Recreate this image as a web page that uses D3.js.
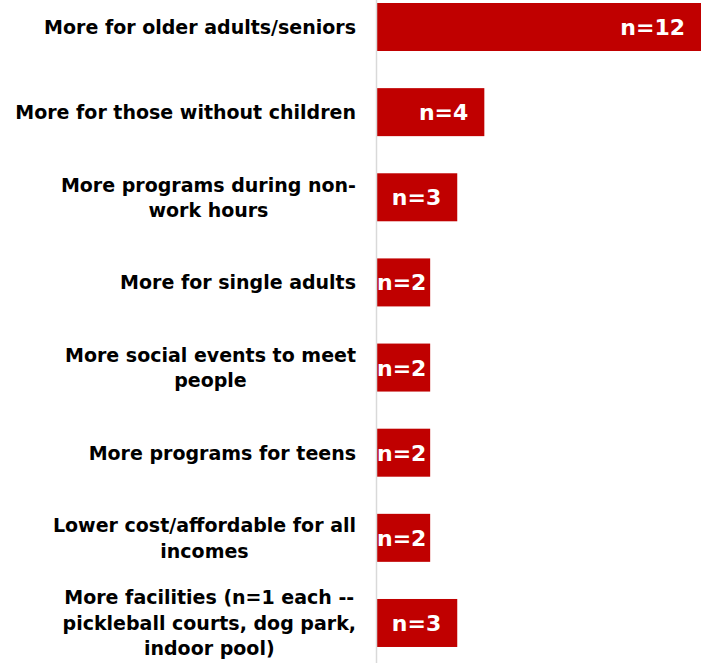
<!DOCTYPE html>
<html>
<head>
<meta charset="utf-8">
<script src="https://cdn.jsdelivr.net/npm/d3@7/dist/d3.min.js"></script>
<style>
  html, body { margin: 0; padding: 0; background: #fff; }
  svg { display: block; }
</style>
</head>
<body>
<svg id="chart" width="701" height="663"></svg>
<script>
const categories = [
  ["More for older adults/seniors"],
  ["More for those without children"],
  ["More programs during non-", "work hours"],
  ["More for single adults"],
  ["More social events to meet", "people"],
  ["More programs for teens"],
  ["Lower cost/affordable for all", "incomes"],
  ["More facilities (n=1 each --", "pickleball courts, dog park,", "indoor pool)"]
];
const values = [12, 4, 3, 2, 2, 2, 2, 3];
const valueLabels = ["n=12", "n=4", "n=3", "n=2", "n=2", "n=2", "n=2", "n=3"];

const FONT = "'DejaVu Sans', sans-serif";
const svg = d3.select("#chart");
const x0 = 376;
const x = d3.scaleLinear().domain([0, 12]).range([x0, 701]);
const idx = d3.range(values.length);
const step = 85.14;
const y = d3.scaleBand().domain(idx).range([27 - step / 2, 27 - step / 2 + step * 8])
  .paddingInner(0.4362).paddingOuter(0.2181);

// bars
svg.selectAll("rect.bar").data(idx).join("rect")
  .attr("class", "bar")
  .attr("x", x(0))
  .attr("y", i => y(i))
  .attr("width", i => x(values[i]) - x(0))
  .attr("height", y.bandwidth())
  .attr("fill", "#c00000");

// axis line
svg.append("line").attr("x1", x0 + 0.5).attr("x2", x0 + 0.5).attr("y1", 0).attr("y2", 663)
  .attr("stroke", "#d9d9d9").attr("stroke-width", 1.5);

// category labels: block right-aligned at 356, lines centred in block
const lineH = 25.5;
idx.forEach(i => {
  const lines = categories[i];
  const cy = y(i) + y.bandwidth() / 2;
  const g = svg.append("g");
  const ts = lines.map((ln, k) => g.append("text")
    .attr("font-family", FONT).attr("font-weight", "bold").attr("font-size", 19)
    .attr("fill", "#000").attr("text-anchor", "middle")
    .attr("y", cy + (k - (lines.length - 1) / 2) * lineH + 7)
    .text(ln));
  const wmax = d3.max(ts, t => t.node().getComputedTextLength());
  ts.forEach(t => t.attr("x", 356 - wmax / 2));
});

// value labels
idx.forEach(i => {
  const cy = y(i) + y.bandwidth() / 2;
  const t = svg.append("text")
    .attr("font-family", FONT).attr("font-weight", "bold").attr("font-size", 22)
    .attr("fill", "#fff").attr("text-anchor", "end")
    .attr("y", cy + 8)
    .text(valueLabels[i]);
  const w = t.node().getComputedTextLength();
  const end = x(values[i]);
  t.attr("x", Math.max(end - 16, x(0) + 1 + w));
});
</script>
</body>
</html>
